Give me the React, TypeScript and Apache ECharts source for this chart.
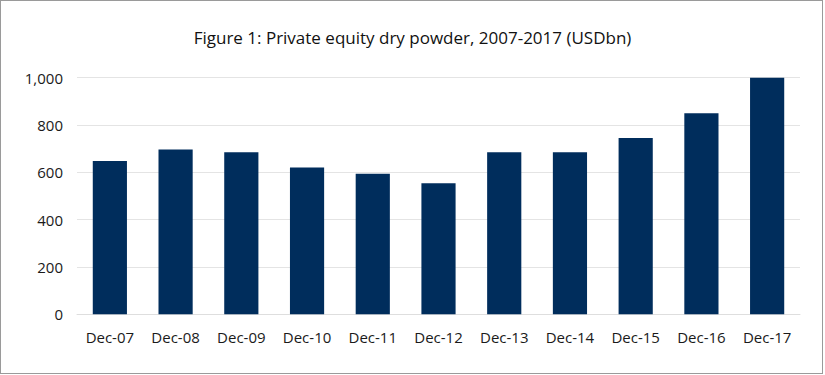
import React, { useEffect, useRef } from "react";
import * as echarts from "echarts";

const categories = ["Dec-07", "Dec-08", "Dec-09", "Dec-10", "Dec-11", "Dec-12", "Dec-13", "Dec-14", "Dec-15", "Dec-16", "Dec-17"];
const dryPowder = [648, 697, 685, 620, 594, 554, 685, 685, 745, 850, 1000];
const titleText = "Figure 1: Private equity dry powder, 2007-2017 (USDbn)";

export default function App() {
  const ref = useRef<HTMLDivElement>(null);
  useEffect(() => {
    if (!ref.current) return;
    const chart = echarts.init(ref.current, undefined, { renderer: "svg" });
    chart.setOption({
      animation: false,
      backgroundColor: "#ffffff",
      textStyle: { fontFamily: "Open Sans" },
      title: {
        text: titleText,
        left: "center",
        top: 29,
        padding: 0,
        textStyle: { fontFamily: "Open Sans", fontSize: 17, fontWeight: 500, color: "#111111" },
      },
      grid: { left: 77, right: 25, top: 77.7, bottom: 60.7, containLabel: false },
      xAxis: {
        type: "category",
        data: categories,
        axisLine: { show: true, lineStyle: { color: "#dedede", width: 1 } },
        axisTick: { show: false },
        axisLabel: { color: "#1a1a1a", fontSize: 15, margin: 15, fontFamily: "Open Sans" },
      },
      yAxis: {
        type: "value",
        min: 0,
        max: 1000,
        interval: 200,
        axisLine: { show: false },
        axisTick: { show: false },
        splitLine: { lineStyle: { color: "#e4e4e4", width: 1 } },
        axisLabel: {
          color: "#1a1a1a",
          fontSize: 15,
          margin: 14,
          fontFamily: "Open Sans",
          formatter: (v: number) => v.toLocaleString("en-US"),
        },
      },
      series: [
        {
          type: "bar",
          data: dryPowder,
          barWidth: "52%",
          itemStyle: { color: "#002d5c" },
        },
      ],
    });
    return () => chart.dispose();
  }, []);
  return (
    <div style={{ position: "fixed", left: 0, top: 0, width: 825, height: 375, background: "#fff" }}>
      <div ref={ref} style={{ position: "absolute", left: 0, top: 0, width: 825, height: 375 }} />
      <div
        style={{
          position: "absolute",
          left: 0,
          top: 0,
          width: 823,
          height: 374,
          boxSizing: "border-box",
          border: "1px solid #9a9a9a",
          pointerEvents: "none",
        }}
      />
    </div>
  );
}
